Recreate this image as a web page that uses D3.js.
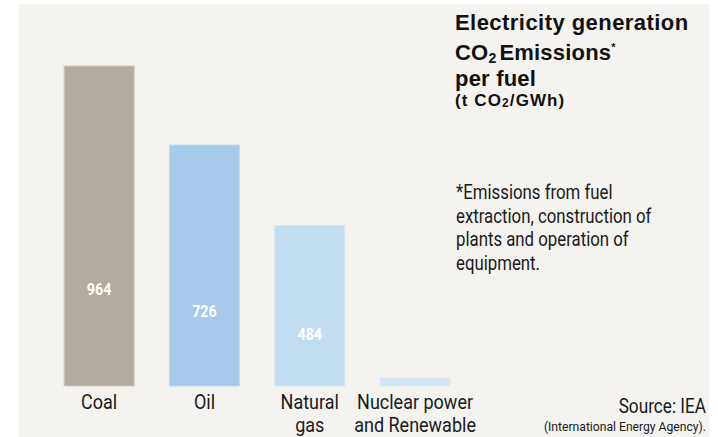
<!DOCTYPE html>
<html>
<head>
<meta charset="utf-8">
<script src="https://cdn.jsdelivr.net/npm/d3@7"></script>
<style>
  html, body { margin: 0; padding: 0; background: #ffffff; }
  svg { display: block; }
</style>
</head>
<body>
<svg id="chart" width="718" height="437"></svg>
<script>
// ---- data ----
const categories = ["Coal", "Oil", "Natural gas", "Nuclear power and Renewable"];
const categoryLines = [["Coal"], ["Oil"], ["Natural", "gas"], ["Nuclear power", "and Renewable"]];
const values = [964, 726, 484, 25];
const valueLabels = ["964", "726", "484", ""];
const barColors = ["#b3aba0", "#a6caeb", "#c3ddf0", "#d4e5f4"];
const barStrokes = ["#cfc9c1", "#c6dcf0", "#d6e7f4", "#e0ecf7"];
const footnoteLines = ["*Emissions from fuel", "extraction, construction of", "plants and operation of", "equipment."];

const svg = d3.select("#chart");
const cond = "Roboto, 'Liberation Sans', sans-serif";
const sans = "'Liberation Sans', Arial, Helvetica, sans-serif";
const F = 0.84; // horizontal condensing factor

// panel background
svg.append("rect").attr("x", 19).attr("y", 4).attr("width", 690).attr("height", 433).attr("fill", "#f4f3ef");

const x = d3.scaleBand().domain(categories).range([46.5, 467.7]).paddingInner(0.335).paddingOuter(0.1675);
const y = d3.scaleLinear().domain([0, 964]).range([386, 66]);

const g = svg.append("g");
g.selectAll("rect.bar").data(values).join("rect")
  .attr("class", "bar")
  .attr("x", (d, i) => x(categories[i]))
  .attr("width", x.bandwidth())
  .attr("y", d => y(d))
  .attr("height", d => y(0) - y(d))
  .attr("fill", (d, i) => barColors[i])
  .attr("stroke", (d, i) => barStrokes[i])
  .attr("stroke-width", 1);

// value labels inside bars
g.selectAll("text.val").data(values).join("text")
  .attr("class", "val")
  .attr("transform", (d, i) => `translate(${x(categories[i]) + x.bandwidth() / 2},${y(0) - 0.285 * (y(0) - y(d))}) scale(${F},1)`)
  .attr("text-anchor", "middle")
  .attr("font-family", cond)
  .attr("font-weight", "bold")
  .attr("font-size", 17)
  .attr("fill", "#ffffff")
  .text((d, i) => valueLabels[i]);

// category labels (x axis without line)
const xAxis = d3.axisBottom(x).tickSize(0).tickFormat("");
const ax = svg.append("g").attr("transform", "translate(0,386)").call(xAxis);
ax.select(".domain").remove();
ax.selectAll(".tick").each(function(d, i) {
  const t = d3.select(this).append("text")
    .attr("transform", `translate(0,22.5) scale(0.9,1)`)
    .attr("text-anchor", "middle")
    .attr("font-family", cond)
    .attr("font-size", 20)
    .attr("fill", "#1a1a1a");
  categoryLines[i].forEach((line, j) => {
    t.append("tspan").attr("x", 0).attr("y", j * 23.4).text(line);
  });
});

// title block
const tx = 455;
const title = svg.append("g").attr("font-family", sans).attr("font-weight", "bold").attr("fill", "#111111");
title.append("text").attr("x", tx).attr("y", 30).attr("font-size", 22).attr("letter-spacing", 0.45).text("Electricity generation");
const l2 = title.append("text").attr("x", tx).attr("y", 60).attr("font-size", 22).attr("letter-spacing", 0.2);
l2.append("tspan").text("CO");
l2.append("tspan").attr("font-size", 14).attr("dy", 3).text("2");
l2.append("tspan").attr("dy", -3).attr("dx", 3).text("Emissions");
l2.append("tspan").attr("font-size", 11).attr("dy", -9).text("*");
title.append("text").attr("x", tx).attr("y", 86).attr("font-size", 22).attr("letter-spacing", 0.2).text("per fuel");
const l4 = title.append("text").attr("x", tx).attr("y", 106).attr("font-size", 17).attr("letter-spacing", 1.1);
l4.append("tspan").text("(t CO");
l4.append("tspan").attr("font-size", 12).attr("dy", 1).text("2");
l4.append("tspan").attr("dy", -1).text("/GWh)");

// footnote
footnoteLines.forEach((line, i) => {
  svg.append("text")
    .attr("transform", `translate(456,${199 + i * 23.5}) scale(${F},1)`)
    .attr("font-family", cond).attr("font-size", 20).attr("fill", "#1a1a1a")
    .text(line);
});

// source
svg.append("text").attr("transform", `translate(706,413) scale(0.86,1)`).attr("text-anchor", "end")
  .attr("font-family", cond).attr("font-size", 20).attr("fill", "#1a1a1a").text("Source: IEA");
svg.append("text").attr("transform", `translate(706,431) scale(0.9,1)`).attr("text-anchor", "end")
  .attr("font-family", cond).attr("font-size", 13.5).attr("fill", "#1a1a1a").text("(International Energy Agency).");
</script>
</body>
</html>
